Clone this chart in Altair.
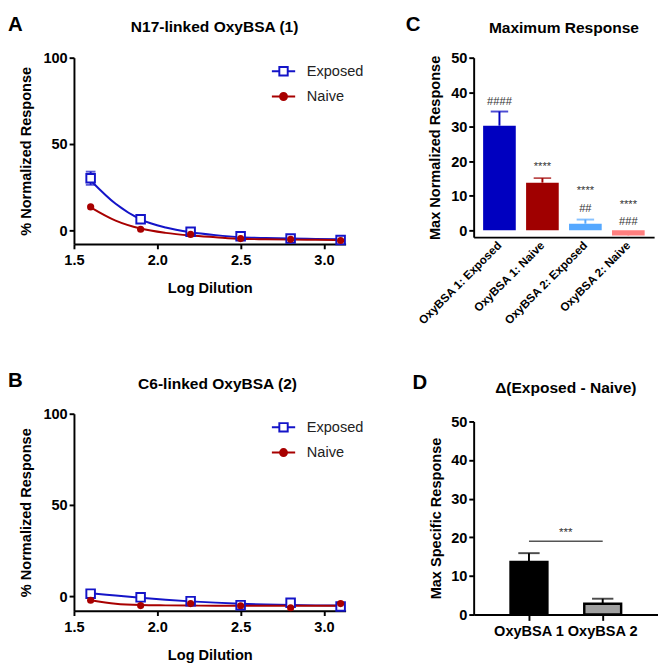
import altair as alt
import pandas as pd

FONT = "Liberation Sans"
BLUE = "#1414c8"
RED = "#a80000"

SERIES = ["Exposed", "Naive"]
SERIES_COLORS = [BLUE, RED]
log_dilution = [1.6, 1.9, 2.2, 2.5, 2.8, 3.1]

# Panel A (N17-linked OxyBSA)
a_exposed = [30.3, 6.6, -0.7, -3.3, -4.6, -5.4]
a_exposed_sem = [3.8, 0.9, 0.6, 0.5, 0.4, 0.4]
a_naive = [13.7, 0.8, -2.2, -4.6, -5.0, -5.7]
a_naive_sem = [0.8, 0.6, 0.5, 0.4, 0.4, 0.4]

# Panel B (C6-linked OxyBSA)
b_exposed = [1.6, -0.4, -2.5, -4.7, -3.4, -5.4]
b_exposed_sem = [0.6, 0.5, 0.5, 0.4, 0.4, 0.4]
b_naive = [-2.0, -4.9, -3.8, -5.0, -6.1, -3.8]
b_naive_sem = [0.5, 0.4, 0.4, 0.4, 0.4, 0.4]

# fitted curves
fit_x = [1.6, 1.75, 1.9, 2.05, 2.2, 2.35, 2.5, 2.65, 2.8, 2.95, 3.1]
a_exposed_fit = [29.0, 15.5, 6.5, 1.8, -0.9, -2.6, -3.8, -4.3, -4.6, -4.8, -5.0]
a_naive_fit = [13.5, 5.8, 1.2, -1.3, -2.8, -3.8, -4.7, -5.0, -5.2, -5.3, -5.4]
b_exposed_fit = [1.8, 0.6, -0.6, -1.7, -2.6, -3.3, -3.9, -4.3, -4.6, -4.8, -4.9]
b_naive_fit = [-2.0, -3.9, -4.6, -4.8, -4.9, -5.0, -5.0, -5.0, -5.0, -5.0, -5.0]

# Panel C (Maximum Response)
c_groups = ["OxyBSA 1: Exposed", "OxyBSA 1: Naive", "OxyBSA 2: Exposed", "OxyBSA 2: Naive"]
c_max = [30.3, 13.8, 1.9, -1.5]
c_sem = [4.1, 1.3, 1.2, 0.6]
c_colors = ["#0000c0", "#a00000", "#55a8ff", "#ff7f7f"]
c_note_group = ["OxyBSA 1: Exposed", "OxyBSA 1: Naive", "OxyBSA 2: Exposed",
                "OxyBSA 2: Exposed", "OxyBSA 2: Naive", "OxyBSA 2: Naive"]
c_note_y = [37.2, 18.2, 11.3, 6.0, 7.4, 2.5]
c_note_text = ["####", "****", "****", "##", "****", "###"]

# Panel D (Delta Exposed - Naive)
d_groups = ["OxyBSA 1", "OxyBSA 2"]
d_delta = [13.6, 2.8]
d_sem = [2.3, 1.3]
d_colors = ["#000000", "#a0a0a0"]
d_sig_y = [19.0, 19.0]
d_sig_text = "***"
d_sig_text_y = 21.4

PATH_EXPOSED = "M-1,0H-0.36M0.36,0H1M-0.36,-0.36H0.36V0.36H-0.36Z"
PATH_NAIVE = "M-1,0H1M-0.3,0A0.3,0.3,0,1,0,0.3,0A0.3,0.3,0,1,0,-0.3,0Z"


def letter_layer(letter, xpos, ypos):
    return alt.Chart(pd.DataFrame({"t": [letter]})).mark_text(
        font=FONT, fontSize=21, fontWeight="bold", align="left",
        baseline="alphabetic", x=xpos, y=ypos, color="black"
    ).encode(text="t:N")


def title_layer(text, xpos, ypos):
    return alt.Chart(pd.DataFrame({"t": [text]})).mark_text(
        font=FONT, fontSize=16, fontWeight="bold", align="center",
        baseline="alphabetic", x=xpos, y=ypos, color="black"
    ).encode(text="t:N")


def curve_panel(letter, title, exp, exp_sem, nai, nai_sem, exp_fit, nai_fit, width, height, title_dx):
    pts = pd.DataFrame({
        "x": log_dilution + log_dilution,
        "y": exp + nai,
        "sem": exp_sem + nai_sem,
        "series": ["Exposed"] * len(exp) + ["Naive"] * len(nai),
    })
    pts["lo"] = pts["y"] - pts["sem"]
    pts["hi"] = pts["y"] + pts["sem"]
    fit = pd.DataFrame({
        "x": fit_x + fit_x,
        "y": exp_fit + nai_fit,
        "series": ["Exposed"] * len(fit_x) + ["Naive"] * len(fit_x),
    })
    xscale = alt.Scale(domain=[1.5, 3.13], nice=False, zero=False)
    yscale = alt.Scale(domain=[-7.7, 100], nice=False, zero=False)
    xaxis = alt.Axis(values=[1.5, 2.0, 2.5, 3.0], format=".1f", title="Log Dilution",
                     titlePadding=14, labelPadding=4)
    yaxis = alt.Axis(values=[0, 50, 100], title="% Normalized Response", titlePadding=10)
    X = alt.X("x:Q", scale=xscale, axis=xaxis)
    Y = alt.Y("y:Q", scale=yscale, axis=yaxis)

    layers = []
    for s, c in zip(SERIES, SERIES_COLORS):
        cond = f"datum.series == '{s}'"
        layers.append(alt.Chart(fit).transform_filter(cond).mark_line(
            strokeWidth=2, interpolate="monotone", color=c).encode(X, Y))
    for s, c in zip(SERIES, SERIES_COLORS):
        errs = alt.Chart(pts).transform_filter(f"datum.series == '{s}' && datum.sem > 2")
        layers.append(errs.mark_rule(strokeWidth=2, color=c).encode(
            X, alt.Y("lo:Q", scale=yscale, axis=yaxis), y2="hi:Q"))
        layers.append(errs.mark_tick(orient="horizontal", size=10, thickness=2, color=c).encode(
            X, alt.Y("lo:Q", scale=yscale, axis=yaxis)))
        layers.append(errs.mark_tick(orient="horizontal", size=10, thickness=2, color=c).encode(
            X, alt.Y("hi:Q", scale=yscale, axis=yaxis)))
    layers.append(alt.Chart(pts).transform_filter("datum.series == 'Exposed'").mark_point(
        shape="square", size=78, filled=True, fill="white", stroke=BLUE, strokeWidth=2, opacity=1
    ).encode(X, Y))
    layers.append(alt.Chart(pts).transform_filter("datum.series == 'Naive'").mark_circle(
        size=55, color=RED, opacity=1
    ).encode(X, Y))
    leg = alt.Legend(title=None, orient="none", legendX=width - 77, legendY=1,
                     symbolOpacity=1, symbolSize=576, symbolStrokeWidth=2,
                     labelFont=FONT, labelFontSize=15, labelFontWeight="normal",
                     labelColor="#222", labelOffset=11, rowPadding=4)
    layers.append(alt.Chart(pts).mark_point(opacity=0, size=576, filled=True).encode(
        X, Y,
        shape=alt.Shape("series:N", scale=alt.Scale(domain=SERIES, range=[PATH_EXPOSED, PATH_NAIVE]), legend=leg),
        fill=alt.Fill("series:N", scale=alt.Scale(domain=SERIES, range=["white", RED]), legend=leg),
        stroke=alt.Stroke("series:N", scale=alt.Scale(domain=SERIES, range=SERIES_COLORS), legend=leg),
    ))
    layers.append(letter_layer(letter, -68, -28))
    layers.append(title_layer(title, width / 2 + title_dx, -26))
    return alt.layer(*layers).properties(width=width, height=height)


panel_a = curve_panel("A", "N17-linked OxyBSA (1)", a_exposed, a_exposed_sem, a_naive, a_naive_sem,
                      a_exposed_fit, a_naive_fit, 280, 192, 5)
panel_b = curve_panel("B", "C6-linked OxyBSA (2)", b_exposed, b_exposed_sem, b_naive, b_naive_sem,
                      b_exposed_fit, b_naive_fit, 280, 203, 8)

# ---- Panel C
C_W, C_H = 186, 185
cdf = pd.DataFrame({"g": c_groups, "v": c_max, "sem": c_sem})
cdf["top"] = cdf["v"] + cdf["sem"]
cnotes = pd.DataFrame({"g": c_note_group, "y": c_note_y, "t": c_note_text})
c_x = alt.X("g:N", sort=c_groups, scale=alt.Scale(paddingInner=0.24, paddingOuter=0.22),
            axis=alt.Axis(title=None, labelAngle=-45, labelAlign="right", labelBaseline="middle",
                          ticks=False, labelFontSize=12, labelPadding=6, labelOverlap=False))
c_yscale = alt.Scale(domain=[-2, 50], nice=False, zero=False)
c_yaxis = alt.Axis(values=[0, 10, 20, 30, 40, 50], title="Max Normalized Response", titlePadding=9)
c_col = alt.Color("g:N", scale=alt.Scale(domain=c_groups, range=c_colors), legend=None)
c_bars = alt.Chart(cdf).mark_bar().encode(c_x, alt.Y("v:Q", scale=c_yscale, axis=c_yaxis), color=c_col)
c_err = alt.Chart(cdf).mark_rule(strokeWidth=2).encode(
    c_x, alt.Y("v:Q", scale=c_yscale, axis=c_yaxis), y2="top:Q", color=c_col)
c_cap = alt.Chart(cdf).mark_tick(orient="horizontal", size=18, thickness=2).encode(
    c_x, alt.Y("top:Q", scale=c_yscale, axis=c_yaxis), color=c_col)
c_txt = alt.Chart(cnotes).mark_text(font=FONT, fontSize=11.5, color="#333", baseline="middle").encode(
    c_x, alt.Y("y:Q", scale=c_yscale, axis=c_yaxis), text="t:N")
panel_c = alt.layer(
    c_err, c_bars, c_cap, c_txt, letter_layer("C", -70, -28), title_layer("Maximum Response", C_W / 2, -25)
).properties(width=C_W, height=C_H)

# ---- Panel D
D_W, D_H = 190, 199
ddf = pd.DataFrame({"g": d_groups, "v": d_delta, "sem": d_sem})
ddf["top"] = ddf["v"] + ddf["sem"]
dsig = pd.DataFrame({"g": d_groups, "y": d_sig_y})
dtxt = pd.DataFrame({"g": [d_groups[0]], "y": [d_sig_text_y], "t": [d_sig_text]})
d_x = alt.X("g:N", sort=d_groups, scale=alt.Scale(paddingInner=0.5, paddingOuter=0.5),
            axis=alt.Axis(title=None, labelAngle=0, ticks=True, tickSize=6, labelPadding=4,
                          labelFontSize=15))
d_yscale = alt.Scale(domain=[0, 50], nice=False)
d_yaxis = alt.Axis(values=[0, 10, 20, 30, 40, 50], title="Max Specific Response", titlePadding=8)
d_col = alt.Color("g:N", scale=alt.Scale(domain=d_groups, range=d_colors), legend=None)
d_err = alt.Chart(ddf).mark_rule(strokeWidth=2, color="black").encode(
    d_x, alt.Y("v:Q", scale=d_yscale, axis=d_yaxis), y2="top:Q")
d_cap = alt.Chart(ddf).mark_tick(orient="horizontal", size=22, thickness=2, color="black").encode(
    d_x, alt.Y("top:Q", scale=d_yscale, axis=d_yaxis))
d_bars = alt.Chart(ddf).mark_bar(stroke="black", strokeWidth=2.5).encode(
    d_x, alt.Y("v:Q", scale=d_yscale, axis=d_yaxis), color=d_col)
d_line = alt.Chart(dsig).mark_line(color="#555", strokeWidth=1.5).encode(
    d_x, alt.Y("y:Q", scale=d_yscale, axis=d_yaxis))
d_star = alt.Chart(dtxt).mark_text(font=FONT, fontSize=12, color="#333", dx=D_W / 5, baseline="middle").encode(
    d_x, alt.Y("y:Q", scale=d_yscale, axis=d_yaxis), text="t:N")
panel_d = alt.layer(
    d_err, d_cap, d_bars, d_line, d_star, letter_layer("D", -63, -34),
    title_layer("\u0394(Exposed - Naive)", D_W / 2, -29)
).properties(width=D_W, height=D_H)

INDEP = dict(color="independent", fill="independent", stroke="independent", shape="independent")

left = alt.vconcat(panel_a, panel_b, spacing=77).resolve_scale(**INDEP)
right = alt.vconcat(panel_c, panel_d, spacing=47).resolve_scale(**INDEP)

chart = alt.hconcat(left, right, spacing=43).resolve_scale(**INDEP).properties(
    padding={"left": 0, "top": -4, "right": 0, "bottom": 0}, background="white"
).configure_view(stroke=None).configure_axis(
    grid=False, domainColor="black", domainWidth=2, tickColor="black", tickWidth=2, tickSize=5,
    labelColor="black", labelFont=FONT, labelFontSize=15, labelFontWeight="bold", labelFlush=False,
    titleColor="black", titleFont=FONT, titleFontSize=15, titleFontWeight="bold",
)

chart.save("out.html", embed_options={"renderer": "svg", "actions": False})
